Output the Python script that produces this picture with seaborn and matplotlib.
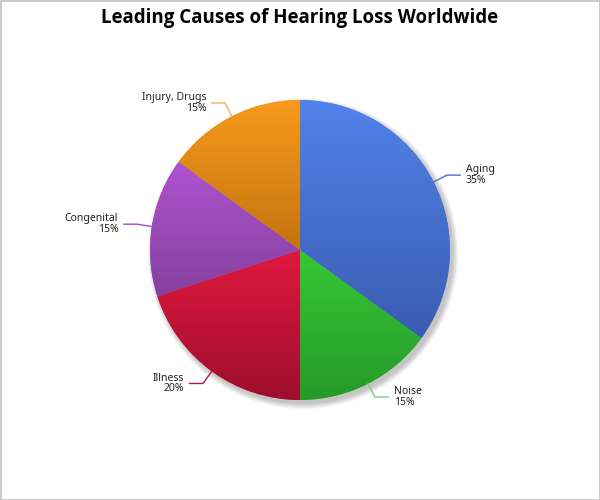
import numpy as np
import matplotlib
matplotlib.use("Agg")
import matplotlib.pyplot as plt
import matplotlib.colors as mcolors
from matplotlib.patches import Circle, Rectangle
import seaborn as sns

# Data
causes = ["Aging", "Noise", "Illness", "Congenital", "Injury, Drugs"]
shares = [35, 15, 20, 15, 15]

# Slice gradient colours (top -> bottom) and leader line colours
top_colors = ["#5282EA", "#35C835", "#E0173F", "#AE54D0", "#F89A1C"]
bottom_colors = ["#3A5CB0", "#27992A", "#9C0F2C", "#85409E", "#C27410"]
line_colors = ["#4A6FD0", "#7CCB7C", "#B01840", "#A050C0", "#F2B060"]

sns.set_theme(style="white")
plt.rcParams["font.family"] = ["Noto Sans", "DejaVu Sans"]

fig = plt.figure(figsize=(6, 5), dpi=100)
ax = fig.add_axes([0, 0, 1, 1])

# soft shadow behind the pie
for i in range(10):
    ax.add_patch(Circle((0.02, -0.025), 1.0 + 0.004 * i, color="black",
                        alpha=0.022, lw=0, zorder=0))

wedges, _ = ax.pie(shares, startangle=90, counterclock=False, radius=1,
                   center=(0, 0), colors=top_colors,
                   wedgeprops=dict(linewidth=0, zorder=1))

# vertical gradient inside each slice
grad = np.linspace(0, 1, 256).reshape(-1, 1)
for w, c0, c1 in zip(wedges, top_colors, bottom_colors):
    ext = w.get_path().get_extents()
    cmap = mcolors.LinearSegmentedColormap.from_list("g", [c1, c0])
    im = ax.imshow(grad, cmap=cmap, origin="lower", aspect="auto",
                   extent=(ext.x0, ext.x1, ext.y0, ext.y1),
                   interpolation="bilinear", zorder=2)
    im.set_clip_path(w)

# leader lines + labels
cum = np.cumsum(shares)
for i, (lab, val) in enumerate(zip(causes, shares)):
    mid = 90 - 360 * (cum[i] - val / 2) / sum(shares)
    a = np.deg2rad(mid)
    x0, y0 = np.cos(a), np.sin(a)
    x1, y1 = 1.1 * np.cos(a), 1.1 * np.sin(a)
    side = 1 if x1 > 0 else -1
    x2 = x1 + side * 0.09
    ax.plot([x0, x1, x2], [y0, y1, y1], color=line_colors[i], lw=1, zorder=3)
    ax.text(x2 + side * 0.035, y1, f"{lab}\n{val}%",
            ha="left" if side > 0 else "right",
            multialignment="left" if side > 0 else "right",
            va="center", fontsize=7.5, color="#222222", linespacing=0.95)

ax.set_xlim(-2, 2)
ax.set_ylim(-5 / 3, 5 / 3)
ax.set_aspect("equal")
ax.axis("off")

fig.text(0.5, 1 - 18 / 500, "Leading Causes of Hearing Loss Worldwide",
         ha="center", va="center", fontsize=13.5, fontweight="bold",
         family=["Open Sans", "Lato", "DejaVu Sans"], color="black")

fig.patches.append(Rectangle((0, 0), 1, 1, transform=fig.transFigure,
                             fill=False, edgecolor="#C8C8C8", lw=2))

fig.savefig("out.png", dpi=100)
